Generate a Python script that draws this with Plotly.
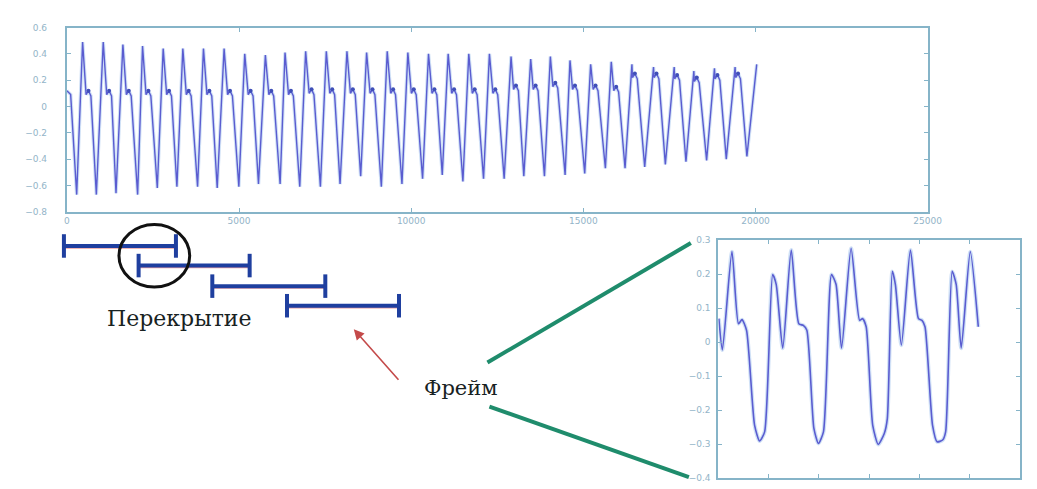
import plotly.graph_objects as go

W, H = 1037, 489

# ---------------- long recording (top panel) ----------------
# one trough, peak and notch per pitch period (sample index, amplitude)
trough_x = [285, 856, 1427, 2055, 2626, 3196, 3796, 4366, 4995, 5565, 6193,
            6764, 7363, 7934, 8533, 9133, 9732, 10331, 10902, 11502, 12101, 12700,
            13271, 13870, 14470, 15040, 15640, 16211, 16782, 17381, 17980, 18580,
            19151, 19750]
trough_y = [-0.67, -0.67, -0.66, -0.67, -0.62, -0.61, -0.61, -0.62, -0.61, -0.59, -0.59,
            -0.61, -0.61, -0.59, -0.53, -0.61, -0.59, -0.55, -0.52, -0.57, -0.55, -0.55,
            -0.53, -0.53, -0.52, -0.51, -0.47, -0.47, -0.46, -0.44, -0.42, -0.41,
            -0.40, -0.38]
peak_x = [457, 1056, 1627, 2198, 2797, 3368, 3967, 4566, 5166, 5765, 6336,
          6935, 7535, 8134, 8705, 9304, 9903, 10503, 11074, 11673, 12272, 12900,
          13471, 14042, 14612, 15212, 15811, 16411, 17038, 17638, 18209, 18808, 19407]
peak_y = [0.49, 0.49, 0.47, 0.46, 0.44, 0.44, 0.44, 0.44, 0.40, 0.39, 0.41,
          0.42, 0.42, 0.42, 0.41, 0.42, 0.41, 0.40, 0.40, 0.40, 0.40, 0.38,
          0.36, 0.38, 0.35, 0.32, 0.34, 0.32, 0.30, 0.30, 0.27, 0.29, 0.30]
notch_x = [628, 1227, 1798, 2369, 2968, 3539, 4138, 4738, 5337, 5936, 6507,
           7106, 7706, 8305, 8876, 9475, 10075, 10674, 11245, 11844, 12443, 13043,
           13614, 14185, 14756, 15355, 15954, 16496, 17124, 17723, 18294, 18894, 19493]
notch_y = [0.12, 0.12, 0.12, 0.12, 0.12, 0.12, 0.12, 0.12, 0.12, 0.12, 0.12,
           0.13, 0.13, 0.13, 0.13, 0.13, 0.13, 0.13, 0.13, 0.13, 0.13, 0.16,
           0.16, 0.18, 0.16, 0.16, 0.15, 0.25, 0.25, 0.24, 0.22, 0.24, 0.25]
# small ripple around each notch (samples, amplitude relative to the notch)
knot_dx = [-70, 0, 70]
knot_dy = [-0.03, 0.0, -0.04]
head_x, head_y = [0, 110], [0.12, 0.09]
tail_x, tail_y = [20035], [0.32]

top_xticks = [0, 5000, 10000, 15000, 20000, 25000]
top_xlabels = ["0", "5000", "10000", "15000", "20000", "25000"]
top_yticks = [0.6, 0.4, 0.2, 0, -0.2, -0.4, -0.6, -0.8]

# ---------------- single frame (zoomed panel) ----------------
frame_x = [1, 8, 27, 40, 47, 56, 72, 82, 92, 108, 115, 128, 145, 160, 169, 176,
           190, 199, 209, 225, 234, 245, 264, 281, 287, 294, 307, 318, 330, 336,
           346, 352, 364, 382, 398, 405, 411, 426, 435, 446, 452, 465, 473, 483,
           501, 517]
frame_y = [0.069, -0.023, 0.266, 0.054, 0.066, 0.035, -0.244, -0.291, -0.264,
           0.199, 0.17, -0.018, 0.271, 0.054, 0.049, 0.035, -0.254, -0.298,
           -0.264, 0.199, 0.17, -0.018, 0.276, 0.064, 0.069, 0.045, -0.245,
           -0.301, -0.269, -0.226, 0.208, 0.17, -0.009, 0.271, 0.069, 0.064,
           0.045, -0.245, -0.293, -0.288, -0.264, 0.208, 0.17, -0.018, 0.266,
           0.045]
frame_xticks = [0, 100, 200, 300, 400, 500, 600]
frame_yticks = [0.3, 0.2, 0.1, 0, -0.1, -0.2, -0.3, -0.4]

# assemble the long waveform period by period
sig_x, sig_y = list(head_x), list(head_y)
for i in range(len(peak_x)):
    sig_x += [trough_x[i], peak_x[i]]
    sig_y += [trough_y[i], peak_y[i]]
    sig_x += [notch_x[i] + d for d in knot_dx]
    sig_y += [notch_y[i] + d for d in knot_dy]
sig_x += [trough_x[-1]] + tail_x
sig_y += [trough_y[-1]] + tail_y


def fx(x):
    return x / W


def fy(y):
    return 1 - y / H


LINE = "#5a5cd0"
HALO = "rgba(120,170,230,0.35)"
FRAME = "#86b4c8"
TICKFONT = dict(family="DejaVu Sans", size=9, color="#93b4c8")

fig = go.Figure()

fig.add_trace(go.Scatter(x=sig_x, y=sig_y, mode="lines",
                         line=dict(color=HALO, width=3.5),
                         xaxis="x", yaxis="y", hoverinfo="skip"))
fig.add_trace(go.Scatter(x=sig_x, y=sig_y, mode="lines",
                         line=dict(color=LINE, width=1.4),
                         xaxis="x", yaxis="y"))
fig.add_trace(go.Scatter(x=notch_x, y=notch_y, mode="markers",
                         marker=dict(color="#3f4fb8", size=4),
                         xaxis="x", yaxis="y"))

fig.add_trace(go.Scatter(x=frame_x, y=frame_y, mode="lines",
                         line=dict(color=HALO, width=4, shape="spline", smoothing=0.6),
                         xaxis="x2", yaxis="y2", hoverinfo="skip"))
fig.add_trace(go.Scatter(x=frame_x, y=frame_y, mode="lines",
                         line=dict(color=LINE, width=1.6, shape="spline", smoothing=0.6),
                         xaxis="x2", yaxis="y2"))

axis_common = dict(showline=True, linecolor=FRAME, linewidth=2, mirror="allticks",
                   ticks="inside", ticklen=4, tickcolor=FRAME, showgrid=False,
                   zeroline=False, tickfont=TICKFONT)

fig.update_layout(
    width=W, height=H, autosize=False,
    margin=dict(l=0, r=0, t=0, b=0),
    paper_bgcolor="white", plot_bgcolor="white",
    showlegend=False,
    xaxis=dict(domain=[fx(65), fx(941)], range=[0, 25000],
               tickvals=top_xticks, ticktext=top_xlabels, anchor="y",
               **axis_common),
    yaxis=dict(domain=[fy(211), fy(23)], range=[-0.8, 0.6],
               tickvals=top_yticks, anchor="x", ticklabelstandoff=16,
               **axis_common),
    # the frame's sample labels sit below the page edge, so only ticks are drawn
    xaxis2=dict(domain=[fx(728), fx(1035)], range=[0, 600],
                tickvals=frame_xticks, anchor="y2", showticklabels=False,
                **axis_common),
    yaxis2=dict(domain=[fy(483), fy(240)], range=[-0.4, 0.3],
                tickvals=frame_yticks, anchor="x2", ticklabelstandoff=4,
                **axis_common),
)

shapes = []
BLUE = "#1f3f9f"


def bracket(x0, x1, yc, half):
    # horizontal span with end bars
    shapes.append(dict(type="line", xref="paper", yref="paper",
                       x0=fx(x0), x1=fx(x1), y0=fy(yc + 2), y1=fy(yc + 2),
                       line=dict(color="rgba(220,90,90,0.6)", width=1.5)))
    shapes.append(dict(type="line", xref="paper", yref="paper",
                       x0=fx(x0), x1=fx(x1), y0=fy(yc), y1=fy(yc),
                       line=dict(color=BLUE, width=4)))
    for xe in (x0, x1):
        shapes.append(dict(type="line", xref="paper", yref="paper",
                           x0=fx(xe), x1=fx(xe), y0=fy(yc - half), y1=fy(yc + half),
                           line=dict(color=BLUE, width=4)))


bracket(62, 176, 246, 12)
bracket(138, 251, 266, 12)
bracket(213, 328, 287, 12)
bracket(289, 403, 307, 12)

# overlap marker
shapes.append(dict(type="circle", xref="paper", yref="paper",
                   x0=fx(118), x1=fx(190), y0=fy(288), y1=fy(224),
                   line=dict(color="#111111", width=3)))

# lines from the label to the zoomed frame
GREEN = "#1f8c6c"
shapes.append(dict(type="line", xref="paper", yref="paper",
                   x0=fx(493), y0=fy(365), x1=fx(700), y1=fy(243),
                   line=dict(color=GREEN, width=4)))
shapes.append(dict(type="line", xref="paper", yref="paper",
                   x0=fx(495), y0=fy(410), x1=fx(698), y1=fy(482),
                   line=dict(color=GREEN, width=4)))

fig.update_layout(shapes=shapes)

fig.add_annotation(xref="paper", yref="paper", x=fx(180), y=fy(320),
                   xanchor="center", yanchor="middle",
                   text="Перекрытие", showarrow=False,
                   font=dict(family="DejaVu Serif", size=22, color="#182222"))
fig.add_annotation(xref="paper", yref="paper", x=fx(466), y=fy(391),
                   xanchor="center", yanchor="middle",
                   text="Фрейм", showarrow=False,
                   font=dict(family="DejaVu Serif", size=21, color="#182222"))
fig.add_annotation(xref="paper", yref="paper", x=fx(357), y=fy(331),
                   ax=46, ay=52, text="", showarrow=True,
                   arrowhead=2, arrowsize=1.3, arrowwidth=1.6, arrowcolor="#c44a4a")

fig.write_html(
    "out.html",
    config={"responsive": False, "displayModeBar": False},
    post_script=("document.documentElement.style.overflow='hidden';"
                 "document.body.style.margin='0';"
                 "document.body.style.overflow='hidden';"),
)
